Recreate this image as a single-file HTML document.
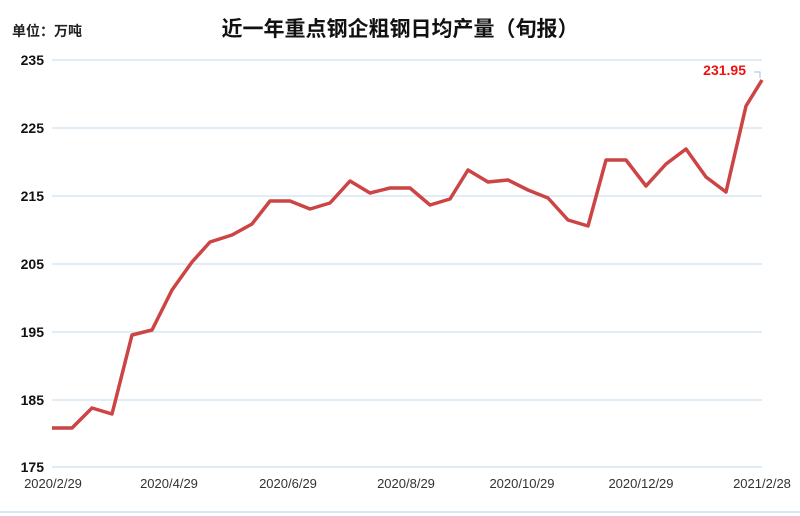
<!DOCTYPE html>
<html><head><meta charset="utf-8"><style>
html,body{margin:0;padding:0;background:#fff;}
</style></head><body>
<svg width="800" height="516" xmlns="http://www.w3.org/2000/svg" style="display:block">
<rect width="800" height="516" fill="#fff"/>
<text x="12" y="36" font-family="Liberation Sans,'Noto Sans CJK SC',sans-serif" font-size="14" font-weight="bold" fill="#222">单位：万吨</text>
<text x="400" y="36" text-anchor="middle" font-family="Liberation Sans,'Noto Sans CJK SC',sans-serif" font-size="21" font-weight="bold" fill="#111">近一年重点钢企粗钢日均产量（旬报）</text>
<g stroke="#d6e6f4" stroke-width="1.5">
<line x1="52" y1="60" x2="762" y2="60"/>
<line x1="52" y1="128" x2="762" y2="128"/>
<line x1="52" y1="196" x2="762" y2="196"/>
<line x1="52" y1="264" x2="762" y2="264"/>
<line x1="52" y1="332" x2="762" y2="332"/>
<line x1="52" y1="400" x2="762" y2="400"/>
<line x1="52" y1="467" x2="762" y2="467"/>
<line x1="0" y1="512" x2="800" y2="512" stroke-width="2"/>
</g>
<g font-family="Liberation Sans,sans-serif" font-size="14" font-weight="bold" fill="#111" text-anchor="end">
<text x="44" y="65">235</text><text x="44" y="133">225</text><text x="44" y="201">215</text>
<text x="44" y="269">205</text><text x="44" y="337">195</text><text x="44" y="405">185</text><text x="44" y="472">175</text>
</g>
<g font-family="Liberation Sans,sans-serif" font-size="13" fill="#333" text-anchor="middle">
<text x="53" y="488">2020/2/29</text><text x="169" y="488">2020/4/29</text><text x="288" y="488">2020/6/29</text>
<text x="406" y="488">2020/8/29</text><text x="522" y="488">2020/10/29</text><text x="641" y="488">2020/12/29</text>
<text x="762" y="488">2021/2/28</text>
</g>
<polyline fill="none" stroke="#cc4444" stroke-width="3.5" stroke-linejoin="round" points="52,428 72,428 92,408 112,414 132,335 152,330 172,290 192,262 210,242 232,235 252,224 270,201 290,201 310,209 330,203 350,181 370,193 390,188 410,188 430,205 450,199 468,170 488,182 508,180 528,190 548,198 568,220 588,226 606,160 626,160 646,186 666,164 686,149 706,177 726,192 746,106 762,80"/>
<path d="M754,72 L760,72 L760,78" fill="none" stroke="#9ec3e0" stroke-width="1"/>
<text x="746" y="75" text-anchor="end" font-family="Liberation Sans,sans-serif" font-size="14" font-weight="bold" fill="#ee1111">231.95</text>
</svg>
</body></html>
